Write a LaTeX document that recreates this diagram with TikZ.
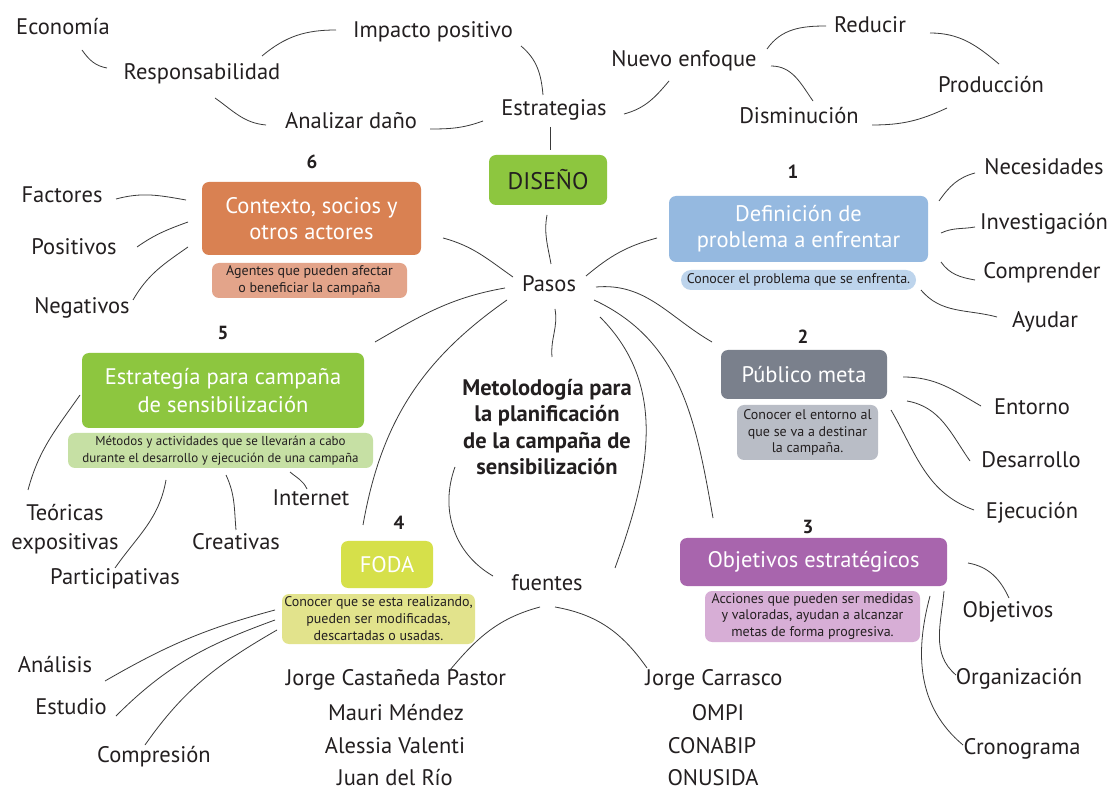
\documentclass[tikz,border=0pt]{standalone}
\usepackage{fontspec}
\setmainfont{PT Sans}
\usetikzlibrary{calc}
\definecolor{ink}{HTML}{231F20}
\definecolor{wire}{HTML}{3A3A3A}
\definecolor{cgreen}{HTML}{8DC63F}
\definecolor{cgreenl}{HTML}{C6E0A4}
\definecolor{corange}{HTML}{D98152}
\definecolor{corangel}{HTML}{E3A48A}
\definecolor{cblue}{HTML}{95B9E0}
\definecolor{cbluel}{HTML}{BDD4EC}
\definecolor{cgray}{HTML}{7A808C}
\definecolor{cgrayl}{HTML}{B9BDC6}
\definecolor{cpurple}{HTML}{A865AD}
\definecolor{cpurplel}{HTML}{D7AED6}
\definecolor{cyellow}{HTML}{D6E04A}
\definecolor{cyellowl}{HTML}{E2E38C}
\begin{document}
\begin{tikzpicture}[x=1pt,y=1pt,
  lbl/.style={font=\fontsize{22.5}{27}\selectfont, text=ink, inner sep=0pt, text height=0.95em, text depth=0em},
  conn/.style={draw=wire, line width=0.8pt},
  num/.style={font=\fontsize{19}{21}\selectfont\bfseries, text=ink, inner sep=0pt},
  box/.style={rounded corners=7pt, inner sep=0pt, align=center, text=white, font=\fontsize{22.5}{26}\selectfont},
  sub/.style={rounded corners=7pt, inner sep=0pt, align=center, text=ink, font=\fontsize{14}{16.5}\selectfont},
  ttl/.style={font=\fontsize{22.5}{26.5}\selectfont\bfseries, text=ink, align=center, inner sep=0pt}
]
\useasboundingbox (0,0) rectangle (1112,-791);
\fill[white] (0,0) rectangle (1112,-791);

% ---- top cluster
\node[lbl] (eco) at (63,-30) {Economía};
\node[lbl] (imp) at (433,-33) {Impacto positivo};
\node[lbl] (resp) at (202,-75) {Responsabilidad};
\node[lbl] (anal) at (351,-124) {Analizar daño};
\node[lbl] (estr) at (554,-111) {Estrategias};
\node[lbl] (nuevo) at (684,-62) {Nuevo enfoque};
\node[lbl] (redu) at (870,-28) {Reducir};
\node[lbl] (prod) at (991,-88) {Producción};
\node[lbl] (dism) at (799,-119) {Disminución};

\node[box, fill=cgreen, text=ink, font=\fontsize{24}{26}\selectfont, minimum width=118pt, minimum height=50pt] (dis) at (548,-180) {DISEÑO};
\node[lbl] (pasos) at (549,-287) {Pasos};

% ---- box 6
\node[num] (n6) at (312,-162) {6};
\node[box, fill=corange, minimum width=219pt, minimum height=73pt] (b6) at (311.5,-218.5) {Contexto, socios y\\otros actores};
\node[sub, fill=corangel, minimum width=195pt, minimum height=35pt] (s6) at (309.5,-280.5) {Agentes que pueden afectar\\o beneficiar la campaña};
\node[lbl] (fac) at (62,-198) {Factores};
\node[lbl] (posi) at (74,-250) {Positivos};
\node[lbl] (nega) at (82,-309) {Negativos};

% ---- box 1
\node[num] (n1) at (793,-172) {1};
\node[box, fill=cblue, minimum width=259pt, minimum height=66pt] (b1) at (798.5,-229) {Definición de\\problema a enfrentar};
\node[sub, fill=cbluel, rounded corners=10pt, minimum width=235pt, minimum height=20pt] (s1) at (798.5,-280) {Conocer el problema que se enfrenta.};
\node[lbl] (nec) at (1044,-170) {Necesidades};
\node[lbl] (inv) at (1044,-225) {Investigación};
\node[lbl] (comp) at (1042,-274) {Comprender};
\node[lbl] (ayu) at (1045,-323) {Ayudar};

% ---- box 5
\node[num] (n5) at (223,-333) {5};
\node[box, fill=cgreen, minimum width=282pt, minimum height=75pt, font=\fontsize{22.5}{28}\selectfont] (b5) at (223,-390.5) {Estrategía para campaña\\de sensibilización};
\node[sub, fill=cgreenl, minimum width=305pt, minimum height=35pt, font=\fontsize{13}{17}\selectfont] (s5) at (220.5,-450.5) {Métodos y actividades que se llevarán a cabo\\durante el desarrollo y ejecución de una campaña};
\node[lbl, align=center, text height=, text depth=, font=\fontsize{22.5}{29}\selectfont] (teo) at (65,-529) {Teóricas\\expositivas};
\node[lbl] (inte) at (311,-501) {Internet};
\node[lbl] (crea) at (236,-545) {Creativas};
\node[lbl] (part) at (115,-580) {Participativas};

% ---- box 2
\node[num] (n2) at (803,-337) {2};
\node[box, fill=cgray, minimum width=166pt, minimum height=49pt] (b2) at (804,-374.5) {Público meta};
\node[sub, fill=cgrayl, minimum width=141pt, minimum height=55pt] (s2) at (807.5,-432.5) {Conocer el entorno al\\que se va a destinar\\la campaña.};
\node[lbl] (ent) at (1032,-410) {Entorno};
\node[lbl] (desa) at (1031,-463) {Desarrollo};
\node[lbl] (ejec) at (1032,-514) {Ejecución};

% ---- centre
\node[ttl] (title) at (547,-427) {Metolodogía para\\la planificación\\de la campaña de\\sensibilización};
\node[lbl] (fuen) at (547,-586) {fuentes};

% ---- box 4
\node[num] (n4) at (399,-523) {4};
\node[box, fill=cyellow, minimum width=92pt, minimum height=47pt] (b4) at (387,-564.5) {FODA};
\node[sub, fill=cyellowl, minimum width=193pt, minimum height=50pt, font=\fontsize{14}{17}\selectfont] (s4) at (378.5,-619) {Conocer que se esta realizando,\\pueden ser modificadas,\\descartadas o usadas.};
\node[lbl] (anali) at (55,-668) {Análisis};
\node[lbl] (estu) at (71,-710) {Estudio};
\node[lbl] (compr) at (154,-758) {Compresión};

% ---- box 3
\node[num] (n3) at (808,-527) {3};
\node[box, fill=cpurple, minimum width=267pt, minimum height=48pt] (b3) at (813.5,-562) {Objetivos estratégicos};
\node[sub, fill=cpurplel, minimum width=215pt, minimum height=51pt] (s3) at (812.5,-616.5) {Acciones que pueden ser medidas\\y valoradas, ayudan a alcanzar\\metas de forma progresiva.};
\node[lbl] (obj) at (1008,-613) {Objetivos};
\node[lbl] (org) at (1019,-680) {Organización};
\node[lbl] (cron) at (1022,-750) {Cronograma};

% ---- sources
\node[lbl] (sa) at (396,-681) {Jorge Castañeda Pastor};
\node[lbl] (sb) at (396,-716) {Mauri Méndez};
\node[lbl] (sc) at (395,-749) {Alessia Valenti};
\node[lbl] (sd) at (395,-781) {Juan del Río};
\node[lbl] (ta) at (714,-681) {Jorge Carrasco};
\node[lbl] (tb) at (718,-716) {OMPI};
\node[lbl] (tc) at (712,-749) {CONABIP};
\node[lbl] (td) at (713,-781) {ONUSIDA};

% ---- connectors: top
\draw[conn] ($(eco)+(19,-20)$) to[out=-55,in=170] ($(resp)+(-95,7)$);
\draw[conn] ($(resp)+(60,19)$) to[out=40,in=180] ($(imp)+(-97,3)$);
\draw[conn] ($(resp)+(13,-23)$) to[out=-35,in=175] ($(anal)+(-85,-1)$);
\draw[conn] ($(anal)+(79,-5)$) to[out=0,in=200] ($(estr)+(-71,-10)$);
\draw[conn] ($(imp)+(88,-13)$) to[out=-40,in=95] ($(estr)+(-11,16)$);
\draw[conn] ($(estr)+(-4,-16)$) -- ($(dis)+(2,30)$);
\draw[conn] ($(estr)+(70,-3)$) to[out=15,in=230] ($(nuevo)+(-15,-19)$);
\draw[conn] ($(nuevo)+(83,13)$) to[out=55,in=180] ($(redu)+(-44,2)$);
\draw[conn] ($(nuevo)+(87,-4)$) to[out=0,in=125] ($(dism)+(14,18)$);
\draw[conn] ($(redu)+(60,-5)$) to[out=0,in=140] ($(prod)+(8,24)$);
\draw[conn] ($(dism)+(73,-6)$) to[out=0,in=205] ($(prod)+(-44,-20)$);
\draw[conn] ($(dis)+(-1,-35)$) to[out=260,in=100] ($(pasos)+(2,23)$);

% ---- connectors: from Pasos
\draw[conn] ($(pasos)+(-36,10)$) to[out=145,in=-15] ($(b6)+(131.5,-19.5)$);
\draw[conn] ($(pasos)+(37,11)$) to[out=40,in=195] ($(b1)+(-141.5,-9)$);
\draw[conn] ($(pasos)+(47,0)$) to[out=5,in=150] ($(b2)+(-92,32.5)$);
\draw[conn] ($(pasos)+(45,-13)$) to[out=-25,in=100] ($(b3)+(-100.5,44)$);
\draw[conn] ($(pasos)+(51,-30)$) to[out=-45,in=70] ($(fuen)+(68,18)$);
\draw[conn] ($(pasos)+(6,-22)$) to[out=-80,in=95] ($(title)+(5,70)$);
\draw[conn] ($(pasos)+(-44,-1)$) to[out=190,in=30] ($(b5)+(152,48.5)$);
\draw[conn] ($(pasos)+(-42,-13)$) to[out=215,in=80] ($(b4)+(-24,39.5)$);
\draw[conn] ($(title)+(-92,-40)$) to[out=250,in=150] ($(fuen)+(-54,10)$);
\draw[conn] ($(fuen)+(-7,-21)$) to[out=195,in=50] ($(sa)+(54,11)$);
\draw[conn] ($(fuen)+(8,-21)$) to[out=-10,in=125] ($(ta)+(-67,13)$);

% ---- connectors: box 6
\draw[conn] ($(fac)+(54,-1)$) to[out=15,in=170] ($(b6)+(-125.5,18.5)$);
\draw[conn] ($(posi)+(63,3)$) to[out=35,in=200] ($(b6)+(-123.5,-3.5)$);
\draw[conn] ($(nega)+(51,9)$) to[out=60,in=215] ($(b6)+(-123.5,-28.5)$);

% ---- connectors: box 1
\draw[conn] ($(b1)+(140.5,28)$) to[out=55,in=195] ($(nec)+(-69,-3)$);
\draw[conn] ($(b1)+(142.5,-4)$) to[out=25,in=190] ($(inv)+(-69,-2)$);
\draw[conn] ($(b1)+(142.5,-33)$) to[out=-55,in=170] ($(comp)+(-67,-6)$);
\draw[conn] ($(s1)+(122.5,-10)$) to[out=-50,in=165] ($(ayu)+(-48,6)$);

% ---- connectors: box 2
\draw[conn] ($(b2)+(99,-2.5)$) to[out=0,in=150] ($(ent)+(-51,4)$);
\draw[conn] ($(b2)+(103,-26.5)$) to[out=-10,in=125] ($(desa)+(-61,2)$);
\draw[conn] ($(b2)+(87,-35.5)$) to[out=-60,in=160] ($(ejec)+(-58,4)$);

% ---- connectors: box 3
\draw[conn] ($(b3)+(154.5,-1)$) to[out=-10,in=115] ($(obj)+(1,15)$);
\draw[conn] ($(b3)+(130.5,-29)$) to[out=-95,in=140] ($(org)+(-63,5)$);
\draw[conn] ($(s3)+(117.5,20.5)$) to[out=-105,in=140] ($(cron)+(-59,5)$);

% ---- connectors: box 5
\draw[conn] ($(b5)+(-143,-4.5)$) to[out=235,in=75] ($(teo)+(-37,39)$);
\draw[conn] ($(s5)+(-54.5,-29.5)$) to[out=-100,in=55] ($(part)+(0,12)$);
\draw[conn] ($(s5)+(5.5,-24.5)$) to[out=-65,in=95] ($(crea)+(0,15)$);
\draw[conn] ($(s5)+(69.5,-21.5)$) to[out=-40,in=115] ($(inte)+(-4,12)$);

% ---- connectors: box 4
\draw[conn] ($(s4)+(-103.5,9)$) to[out=195,in=30] ($(anali)+(50,-13)$);
\draw[conn] ($(s4)+(-103.5,-1)$) to[out=200,in=45] ($(estu)+(45,-6)$);
\draw[conn] ($(s4)+(-101.5,-11)$) to[out=210,in=55] ($(compr)+(-9,13)$);
\end{tikzpicture}
\end{document}
